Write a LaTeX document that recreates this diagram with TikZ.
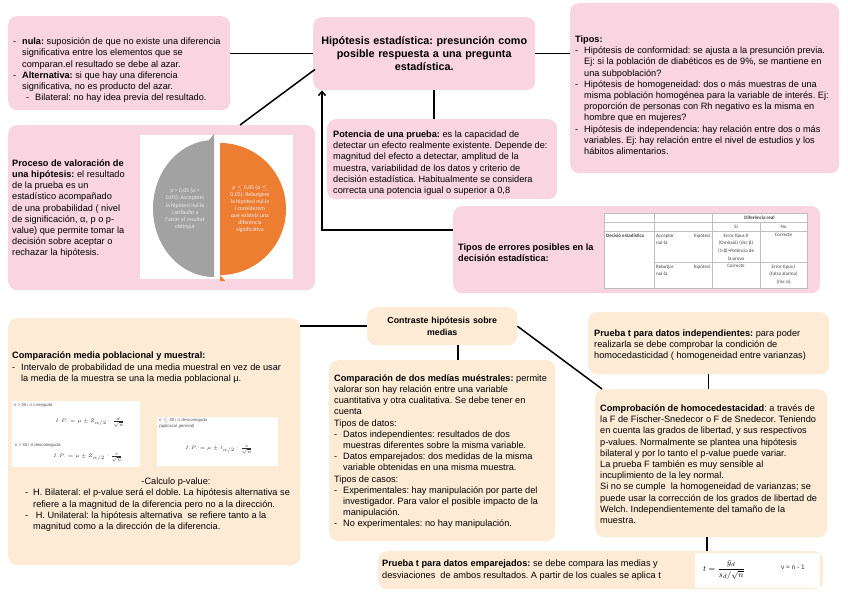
\documentclass[tikz,border=0pt]{standalone}
\usepackage{fontspec}
\setmainfont{Liberation Sans}
\newfontfamily\carl{Carlito}
\usetikzlibrary{arrows.meta,calc}
\frenchspacing
\definecolor{pinkc}{RGB}{249,212,225}
\definecolor{peachc}{RGB}{253,235,214}
\definecolor{pieg}{RGB}{162,162,162}
\definecolor{pieo}{RGB}{237,125,49}
\definecolor{gridc}{RGB}{190,190,190}
\newcommand\Dd{\makebox[9pt][l]{-}}
\newcommand\Ii{\hspace*{9pt}}
\tikzset{
  x=1pt, y=-1pt,
  box/.style={rounded corners=9pt, anchor=north west, inner xsep=5pt, inner ysep=0pt, align=center, font=\fontsize{9.2}{11.2}\selectfont},
  pinkbox/.style={box, fill=pinkc},
  peachbox/.style={box, fill=peachc},
  txt/.style={anchor=west, inner sep=0pt, align=left, font=\fontsize{9.2}{11.2}\selectfont},
  conn/.style={line width=1.5pt, black},
  tb/.style={inner sep=0pt, font=\carl\fontsize{5}{7.8}\selectfont, text=black!75},
  pie/.style={inner sep=0pt, align=center, font=\carl\fontsize{5.8}{7.1}\selectfont, text=white!85!gray},
  tiny/.style={inner sep=0pt, anchor=west, font=\fontsize{4.3}{6}\selectfont, text=black!70},
  frm/.style={inner sep=0pt, font=\fontsize{5.5}{7}\selectfont, text=black!80},
  tline/.style={gridc, line width=0.4pt}
}
\begin{document}
\begin{tikzpicture}
\useasboundingbox (0,0) rectangle (848,599);
\fill[white] (0,0) rectangle (848,599);

% ---------- pink boxes ----------
\node[pinkbox, minimum width=222pt, minimum height=94pt] (nula) at (8,16) {};
\node[txt] (nulat) at ($(nula.west)+(5,7)$)
{\Dd\textbf{nula:} suposición de que no existe una diferencia\\
\Ii significativa entre los elementos que se\\
\Ii comparan.el resultado se debe al azar.\\
\Dd\textbf{Alternativa:} si que hay una diferencia\\
\Ii significativa, no es producto del azar.\\
\hspace*{13pt}\Dd Bilateral: no hay idea previa del resultado.};

\node[pinkbox, minimum width=222pt, minimum height=73pt, text width=212pt,
      font=\bfseries\fontsize{10.8}{13}\selectfont] (hip) at (313,17)
{Hipótesis estadística: presunción como\\ posible respuesta a una pregunta\\ estadística.};

\node[pinkbox, minimum width=269pt, minimum height=170pt] (tipos) at (570,3) {};
\node[txt] (tipost) at ($(tipos.west)+(5,7)$)
{\textbf{Tipos:}\\
\Dd Hipótesis de conformidad: se ajusta a la presunción previa.\\
\Ii Ej: si la población de diabéticos es de 9\%, se mantiene en\\
\Ii una subpoblación?\\
\Dd Hipótesis de homogeneidad: dos o más muestras de una\\
\Ii misma población homogénea para la variable de interés. Ej:\\
\Ii proporción de personas con Rh negativo es la misma en\\
\Ii hombre que en mujeres?\\
\Dd Hipótesis de independencia: hay relación entre dos o más\\
\Ii variables. Ej: hay relación entre el nivel de estudios y los\\
\Ii hábitos alimentarios.};

\node[pinkbox, minimum width=307pt, minimum height=165pt] (proc) at (8,125) {};
\node[txt] (proctxt) at ($(proc.west)+(4,1)$)
{\textbf{Proceso de valoración de}\\
\textbf{una hipótesis:} el resultado\\
de la prueba es un\\
estadístico acompañado\\
de una probabilidad ( nivel\\
de significación, α, p o p-\\
value) que permite tomar la\\
decisión sobre aceptar o\\
rechazar la hipótesis.};

% pie chart picture
\fill[white] (140,135) rectangle (293,279);
\fill[pieg] (214,140) arc[start angle=90, end angle=270, x radius=61pt, y radius=68.5pt] -- cycle;
\fill[pieo] (220,143) arc[start angle=90, end angle=-90, x radius=66pt, y radius=66pt] -- cycle;
\fill[pieg] (209,140) -- (214,134) -- (214,140) -- cycle;
\fill[pieo] (220,275) -- (225,281) -- (220,281) -- cycle;
\node[pie] (pg) at (185,209) {p > 0,05 (α >\\0,05): Acceptem\\la hipòtesi nul·la\\i atribuïm a\\l'atzar el resultat\\obtingut};
\node[pie] (po) at (250,209) {p $\leq$ 0,05 (α $\leq$\\0,05): Rebutgem\\la hipòtesi nul·la\\i considerem\\que existeix una\\diferència\\significativa};

\node[pinkbox, minimum width=230pt, minimum height=80pt] (pot) at (327,119) {};
\node[txt] (pott) at ($(pot.west)+(6,4)$)
{\textbf{Potencia de una prueba:} es la capacidad de\\
detectar un efecto realmente existente. Depende de:\\
magnitud del efecto a detectar, amplitud de la\\
muestra, variabilidad de los datos y criterio de\\
decisión estadística. Habitualmente se considera\\
correcta una potencia igual o superior a 0,8};

\node[pinkbox, minimum width=367pt, minimum height=87pt] (err) at (453,206) {};
\node[txt] (errtxt) at ($(err.west)+(5,3)$)
{\textbf{Tipos de errores posibles en la}\\ \textbf{decisión estadística:}};

% error table
\fill[white] (604,213) rectangle (807,288);
\draw[tline] (604,213) rectangle (807,288);
\draw[tline] (604,222) -- (807,222);
\draw[tline] (604,231) -- (807,231);
\draw[tline] (654,262) -- (807,262);
\draw[tline] (654,213) -- (654,288);
\draw[tline] (712,213) -- (712,288);
\draw[tline] (760,222) -- (760,288);
\node[tb, font=\carl\bfseries\fontsize{5}{7.8}\selectfont] (t1) at (759.5,218) {Diferència real};
\node[tb] (t2) at (736,227) {Sí};
\node[tb] (t3) at (783.5,227) {No};
\node[tb, anchor=north west, font=\carl\bfseries\fontsize{5}{7.8}\selectfont] (t4) at (606,233.5) {Decisió estadística};
\node[tb, anchor=north west, text width=54pt, align=left] (t5) at (656,233.5) {Acceptar\hfill hipòtesi\\nul·la};
\node[tb, anchor=north, align=center] (t6) at (736,233.5) {Error tipus II\\(Omissió) (risc β)\\(1-β)=Potència de\\la prova};
\node[tb, anchor=north] (t7) at (783.5,233.5) {Correcte};
\node[tb, anchor=north west, text width=54pt, align=left] (t8) at (656,264.5) {Rebutjar\hfill hipòtesi\\nul·la};
\node[tb, anchor=north] (t9) at (736,264.5) {Correcte};
\node[tb, anchor=north, align=center] (t10) at (783.5,264.5) {Error tipus I\\(Falsa alarma)\\(risc α)};

% ---------- peach boxes ----------
\node[peachbox, minimum width=292pt, minimum height=247pt] (cmp) at (8,318) {};
\node[txt, anchor=north west] (cmptop) at (12,352)
{\textbf{Comparación media poblacional y muestral:}\\
\Dd Intervalo de probabilidad de una media muestral en vez de usar\\
\Ii la media de la muestra se una la media poblacional μ.};
\fill[white] (12,401) rectangle (140,467);
\node[tiny, font=\itshape\fontsize{4.3}{6}\selectfont] (f1a) at (14,405) {n > 30 i σ coneguda};
\node[frm] (f1b) at (90,423) {$I.P. = \mu \pm Z_{\alpha/2}\cdot\frac{\sigma}{\sqrt{n}}$};
\node[tiny] (f1c) at (15,445) {n > 30 i σ desconeguda:};
\node[frm] (f1d) at (88,458) {$I.P. = \mu \pm Z_{\alpha/2}\cdot\frac{s}{\sqrt{n}}$};
\fill[white] (157,417) rectangle (278,466);
\node[tiny, font=\itshape\fontsize{4.3}{6}\selectfont, align=left, anchor=north west] (f2a) at (159,418) {n $\leq$ 30 i σ desconeguda\\(aplicació general)};
\node[frm] (f2b) at (219,450) {$I.P. = \mu \pm t_{\alpha/2}\cdot\frac{s}{\sqrt{n}}$};
\node[inner sep=0pt, anchor=base, font=\fontsize{9.2}{11.2}\selectfont] (pval) at (176,484) {-Calculo p-value:};
\node[txt, anchor=north west] (pvlist) at (25,489)
{\makebox[8pt][l]{-}H. Bilateral: el p-value será el doble. La hipótesis alternativa se\\
\hspace*{8pt}refiere a la magnitud de la diferencia pero no a la dirección.\\
\makebox[8pt][l]{-} H. Unilateral: la hipótesis alternativa\ \ se refiere tanto a la\\
\hspace*{8pt}magnitud como a la dirección de la diferencia.};

\node[peachbox, minimum width=150pt, minimum height=38pt, text width=140pt,
      font=\bfseries\fontsize{8.8}{11.5}\selectfont] (cont) at (367,307)
{Contraste hipótesis sobre\\ medias};

\node[peachbox, minimum width=226pt, minimum height=181pt] (dos) at (329,360) {};
\node[txt] (dost) at ($(dos.west)+(5,1)$)
{\textbf{Comparación de dos medías muéstrales:} permite\\
valorar son hay relación entre una variable\\
cuantitativa y otra cualitativa. Se debe tener en\\
cuenta\\
Tipos de datos:\\
\Dd Datos independientes: resultados de dos\\
\Ii muestras diferentes sobre la misma variable.\\
\Dd Datos emparejados: dos medidas de la misma\\
\Ii variable obtenidas en una misma muestra.\\
Tipos de casos:\\
\Dd Experimentales: hay manipulación por parte del\\
\Ii investigador. Para valor el posible impacto de la\\
\Ii manipulación.\\
\Dd No experimentales: no hay manipulación.};

\node[peachbox, minimum width=241pt, minimum height=62pt] (ind) at (588,312) {};
\node[txt] (indt) at ($(ind.west)+(6,2)$)
{\textbf{Prueba t para datos independientes:} para poder\\
realizarla se debe comprobar la condición de\\
homocedasticidad ( homogeneidad entre varianzas)};

\node[peachbox, minimum width=232pt, minimum height=148pt] (comp) at (595,389) {};
\node[txt] (compt) at ($(comp.west)+(5,1)$)
{\textbf{Comprobación de homocedestacidad}: a través de\\
la F de Fischer-Snedecor o F de Snedecor. Teniendo\\
en cuenta las grados de libertad, y sus respectivos\\
p-values. Normalmente se plantea una hipótesis\\
bilateral y por lo tanto el p-value puede variar.\\
La prueba F también es muy sensible al\\
incuplimiento de la ley normal.\\
Si no se cumple\ \ la homogeneidad de varianzas; se\\
puede usar la corrección de los grados de libertad de\\
Welch. Independientemente del tamaño de la\\
muestra.};

\node[peachbox, minimum width=445pt, minimum height=38pt] (emp) at (378,551) {};
\node[txt] (empt) at ($(emp.west)+(4,0)$)
{\textbf{Prueba t para datos emparejados:} se debe compara las medias y\\
desviaciones\ \ de ambos resultados. A partir de los cuales se aplica t};
\fill[white] (695,553) rectangle (820,588);
\node[inner sep=0pt, font=\fontsize{8}{10}\selectfont] (tform) at (724,570) {$\displaystyle t = \frac{\bar{y}_d}{{s_d}/{\sqrt{n}}}$};
\node[inner sep=0pt, font=\fontsize{6.5}{8}\selectfont, text=black!80] (nu) at (793,567) {v = n - 1};

% ---------- connectors ----------
\draw[conn] (hip.west) -- (hip.west -| nula.east);
\coordinate (hdl) at ($(hip.south west)+(2,-21)$);
\coordinate (pdt) at ($(proc.north west)+(232,0)$);
\draw[conn] (hdl) -- (pdt);
\draw[conn] (hip.east) -- (hip.east -| tipos.west);
\coordinate (hp) at ($(hip.south)+(10,0)$);
\draw[conn] (hp) -- (hp |- pot.north);
\coordinate (errL) at ($(err.north west)+(0,24)$);
\coordinate (hipA) at ($(hip.south west)+(9,0)$);
\draw[conn, -{Straight Barb[length=4pt,width=7pt]}] (errL) -| (hipA);
\draw[conn] (cont.west) -- (cont.west -| cmp.east);
\coordinate (cs) at ($(cont.south)+(16,0)$);
\draw[conn] (cs) -- (cs |- dos.north);
\coordinate (cnw) at ($(comp.north west)+(7,0)$);
\draw[conn] (cont.east) -- (cnw);
\draw[conn] (ind.south) -- (ind.south |- comp.north);
\coordinate (cb) at ($(comp.south)+(-4,0)$);
\draw[conn] (cb) -- (cb |- emp.north);
\end{tikzpicture}
\end{document}
